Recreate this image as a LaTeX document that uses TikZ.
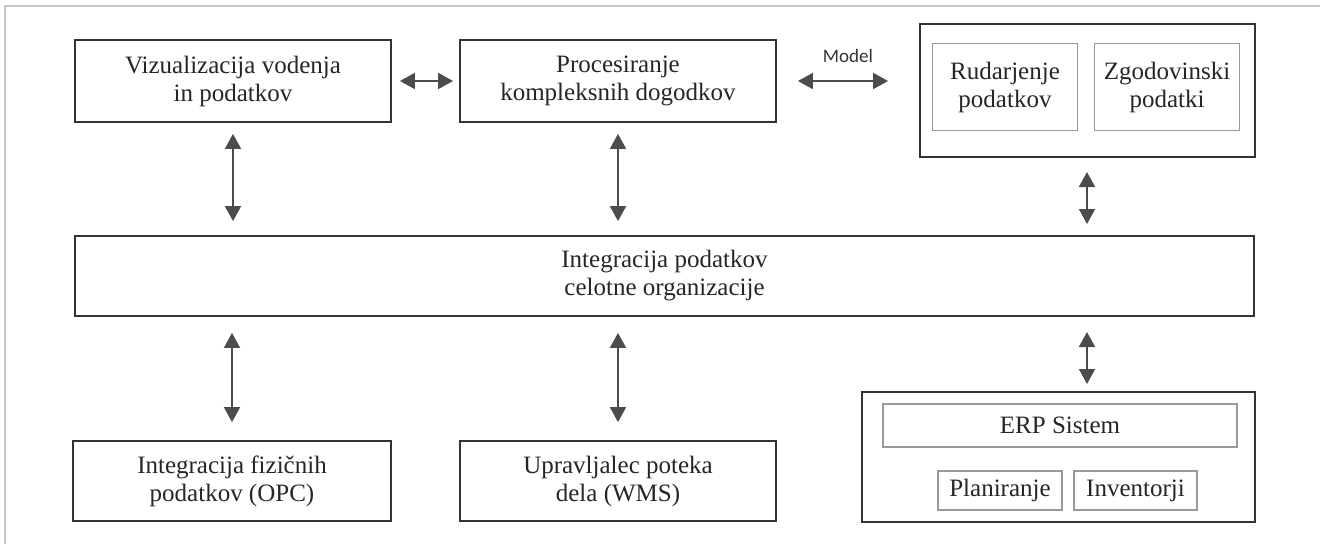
\documentclass[tikz,border=0pt]{standalone}
\usepackage{fontspec}
\setmainfont{Liberation Serif}
\newfontfamily\labelfont{Carlito}
\usetikzlibrary{arrows.meta}

\tikzset{
  mainbox/.style={draw=black!80, line width=1.8pt, fill=white, align=center,
    inner sep=0pt, text=black!85, font=\fontsize{25}{28}\selectfont},
  subbox/.style={draw=black!40, line width=1.4pt, fill=white, align=center,
    inner sep=0pt, text=black!85, font=\fontsize{25}{28}\selectfont},
  link/.style={draw=black!70, line width=1.8pt,
    {Triangle[width=16pt,length=15pt]}-{Triangle[width=16pt,length=15pt]}},
  frameline/.style={draw=black!22, line width=1.2pt}
}

\begin{document}
\begin{tikzpicture}[x=1pt,y=-1pt]
  \useasboundingbox (0,0) rectangle (1320,544);
  % thin outer frame (top and left edges)
  \draw[frameline] (5,544) -- (5,6) -- (1320,6);

  % top row
  \node[mainbox, minimum width=316pt, minimum height=82pt] (viz) at (233,81)
    {Vizualizacija vodenja\\in podatkov};
  \node[mainbox, minimum width=316pt, minimum height=82pt] (cep) at (618,81)
    {Procesiranje\\kompleksnih dogodkov};
  \node[mainbox, minimum width=335pt, minimum height=133pt] (hist) at (1087.5,90.5) {};
  \node[subbox, minimum width=145pt, minimum height=87pt] (mine) at (1005,87)
    {Rudarjenje\\podatkov};
  \node[subbox, minimum width=145pt, minimum height=87pt] (arch) at (1167,87)
    {Zgodovinski\\podatki};

  % middle layer
  \node[mainbox, minimum width=1179pt, minimum height=80pt] (integ) at (664.5,276)
    {Integracija podatkov\\celotne organizacije};

  % bottom row
  \node[mainbox, minimum width=318pt, minimum height=80pt] (opc) at (232,481)
    {Integracija fizičnih\\podatkov (OPC)};
  \node[mainbox, minimum width=316pt, minimum height=80pt] (wms) at (618,481)
    {Upravljalec poteka\\dela (WMS)};
  \node[mainbox, minimum width=393pt, minimum height=130pt] (erp) at (1058.5,457) {};
  \node[subbox, minimum width=354pt, minimum height=43pt] (erpsys) at (1060,425.5)
    {ERP Sistem};
  \node[subbox, minimum width=124pt, minimum height=39pt] (plan) at (1000,490.5)
    {Planiranje};
  \node[subbox, minimum width=123pt, minimum height=39pt] (inv) at (1135.5,490.5)
    {Inventorji};

  % connection points on the wide layer
  \coordinate (integVizTop) at (viz.south |- integ.north);
  \coordinate (integCepTop) at (cep.south |- integ.north);
  \coordinate (integHistTop) at (1087,236);
  \coordinate (integOpcBot) at (opc.north |- integ.south);
  \coordinate (integWmsBot) at (wms.north |- integ.south);
  \coordinate (integErpBot) at (1087,316);
  \coordinate (histBot) at (1087,157);
  \coordinate (erpTop) at (1087,392);

  % horizontal links
  \draw[link, shorten <=8pt, shorten >=6pt] (viz.east) -- (cep.west);
  \draw[link, shorten <=21pt, shorten >=31pt] (cep.east) -- (hist.west |- cep.east)
    node[midway, above=14pt, font=\labelfont\fontsize{19}{22}\selectfont, text=black!80] (mlabel) {Model};

  % vertical links
  \draw[link, shorten <=11pt, shorten >=14pt] (viz.south) -- (integVizTop);
  \draw[link, shorten <=11pt, shorten >=14pt] (cep.south) -- (integCepTop);
  \draw[link, shorten <=15pt, shorten >=12pt] (histBot) -- (integHistTop);
  \draw[link, shorten <=16pt, shorten >=18pt] (integOpcBot) -- (opc.north);
  \draw[link, shorten <=16pt, shorten >=18pt] (integWmsBot) -- (wms.north);
  \draw[link, shorten <=16pt, shorten >=8pt] (integErpBot) -- (erpTop);
\end{tikzpicture}
\end{document}
